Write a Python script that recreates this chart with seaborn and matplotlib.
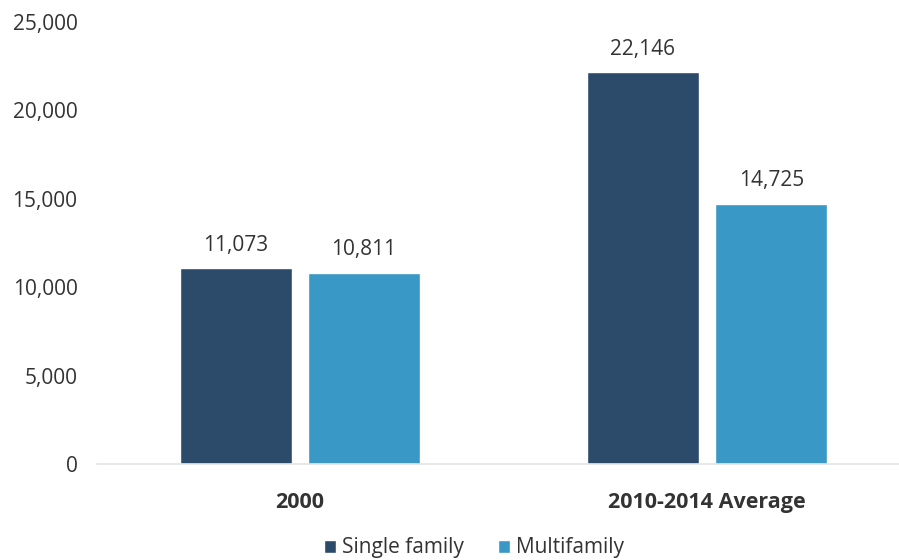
import numpy as np
import pandas as pd
import seaborn as sns
import matplotlib.pyplot as plt

# %%
periods = ["2000", "2010-2014 Average"]
series = ["Single family", "Multifamily"]
single_family = [11073, 22146]
multifamily = [10811, 14725]
yticks = [0, 5000, 10000, 15000, 20000, 25000]

df = pd.DataFrame({
    "period": periods * 2,
    "type": [series[0]] * 2 + [series[1]] * 2,
    "units": single_family + multifamily,
})

colors = {"Single family": "#2c4a69", "Multifamily": "#3a98c6"}
text_color = "#333333"

# %%
sns.set_style("white")
plt.rcParams["font.family"] = ["Open Sans", "DejaVu Sans"]

fig = plt.figure(figsize=(8.99, 5.6), dpi=100)
ax = fig.add_axes([97 / 899, 1 - 464 / 560, 1 - 97 / 899, (464 - 22) / 560])

sns.barplot(
    data=df,
    x="period",
    y="units",
    hue="type",
    hue_order=series,
    palette=colors,
    saturation=1,
    width=0.63,
    gap=0.13,
    ax=ax,
)

for cont in ax.containers:
    ax.bar_label(cont, labels=[f"{v:,.0f}" for v in cont.datavalues],
                 padding=9, fontsize=15, color=text_color)

ax.set_ylim(0, 25000)
ax.set_xlim(-0.4986, 1.4714)
ax.set_yticks(yticks)
ax.set_yticklabels([f"{v:,}" for v in yticks])
ax.tick_params(axis="y", length=0, pad=14, labelsize=15, labelcolor=text_color)
ax.tick_params(axis="x", length=0, pad=20, labelsize=15.5, labelcolor=text_color)
for lbl in ax.get_xticklabels():
    lbl.set_fontweight("bold")
ax.set_xlabel("")
ax.set_ylabel("")

sns.despine(ax=ax, left=True, right=True, top=True)
ax.spines["bottom"].set_color("#e4e4e4")
ax.spines["bottom"].set_linewidth(1.2)

ax.legend(
    loc="center",
    bbox_to_anchor=(0.47, -0.19),
    ncol=2,
    frameon=False,
    fontsize=15,
    handlelength=0.6,
    handleheight=0.6,
    handletextpad=0.3,
    columnspacing=1.6,
    labelcolor=text_color,
)

plt.savefig("out.png", dpi=100)
